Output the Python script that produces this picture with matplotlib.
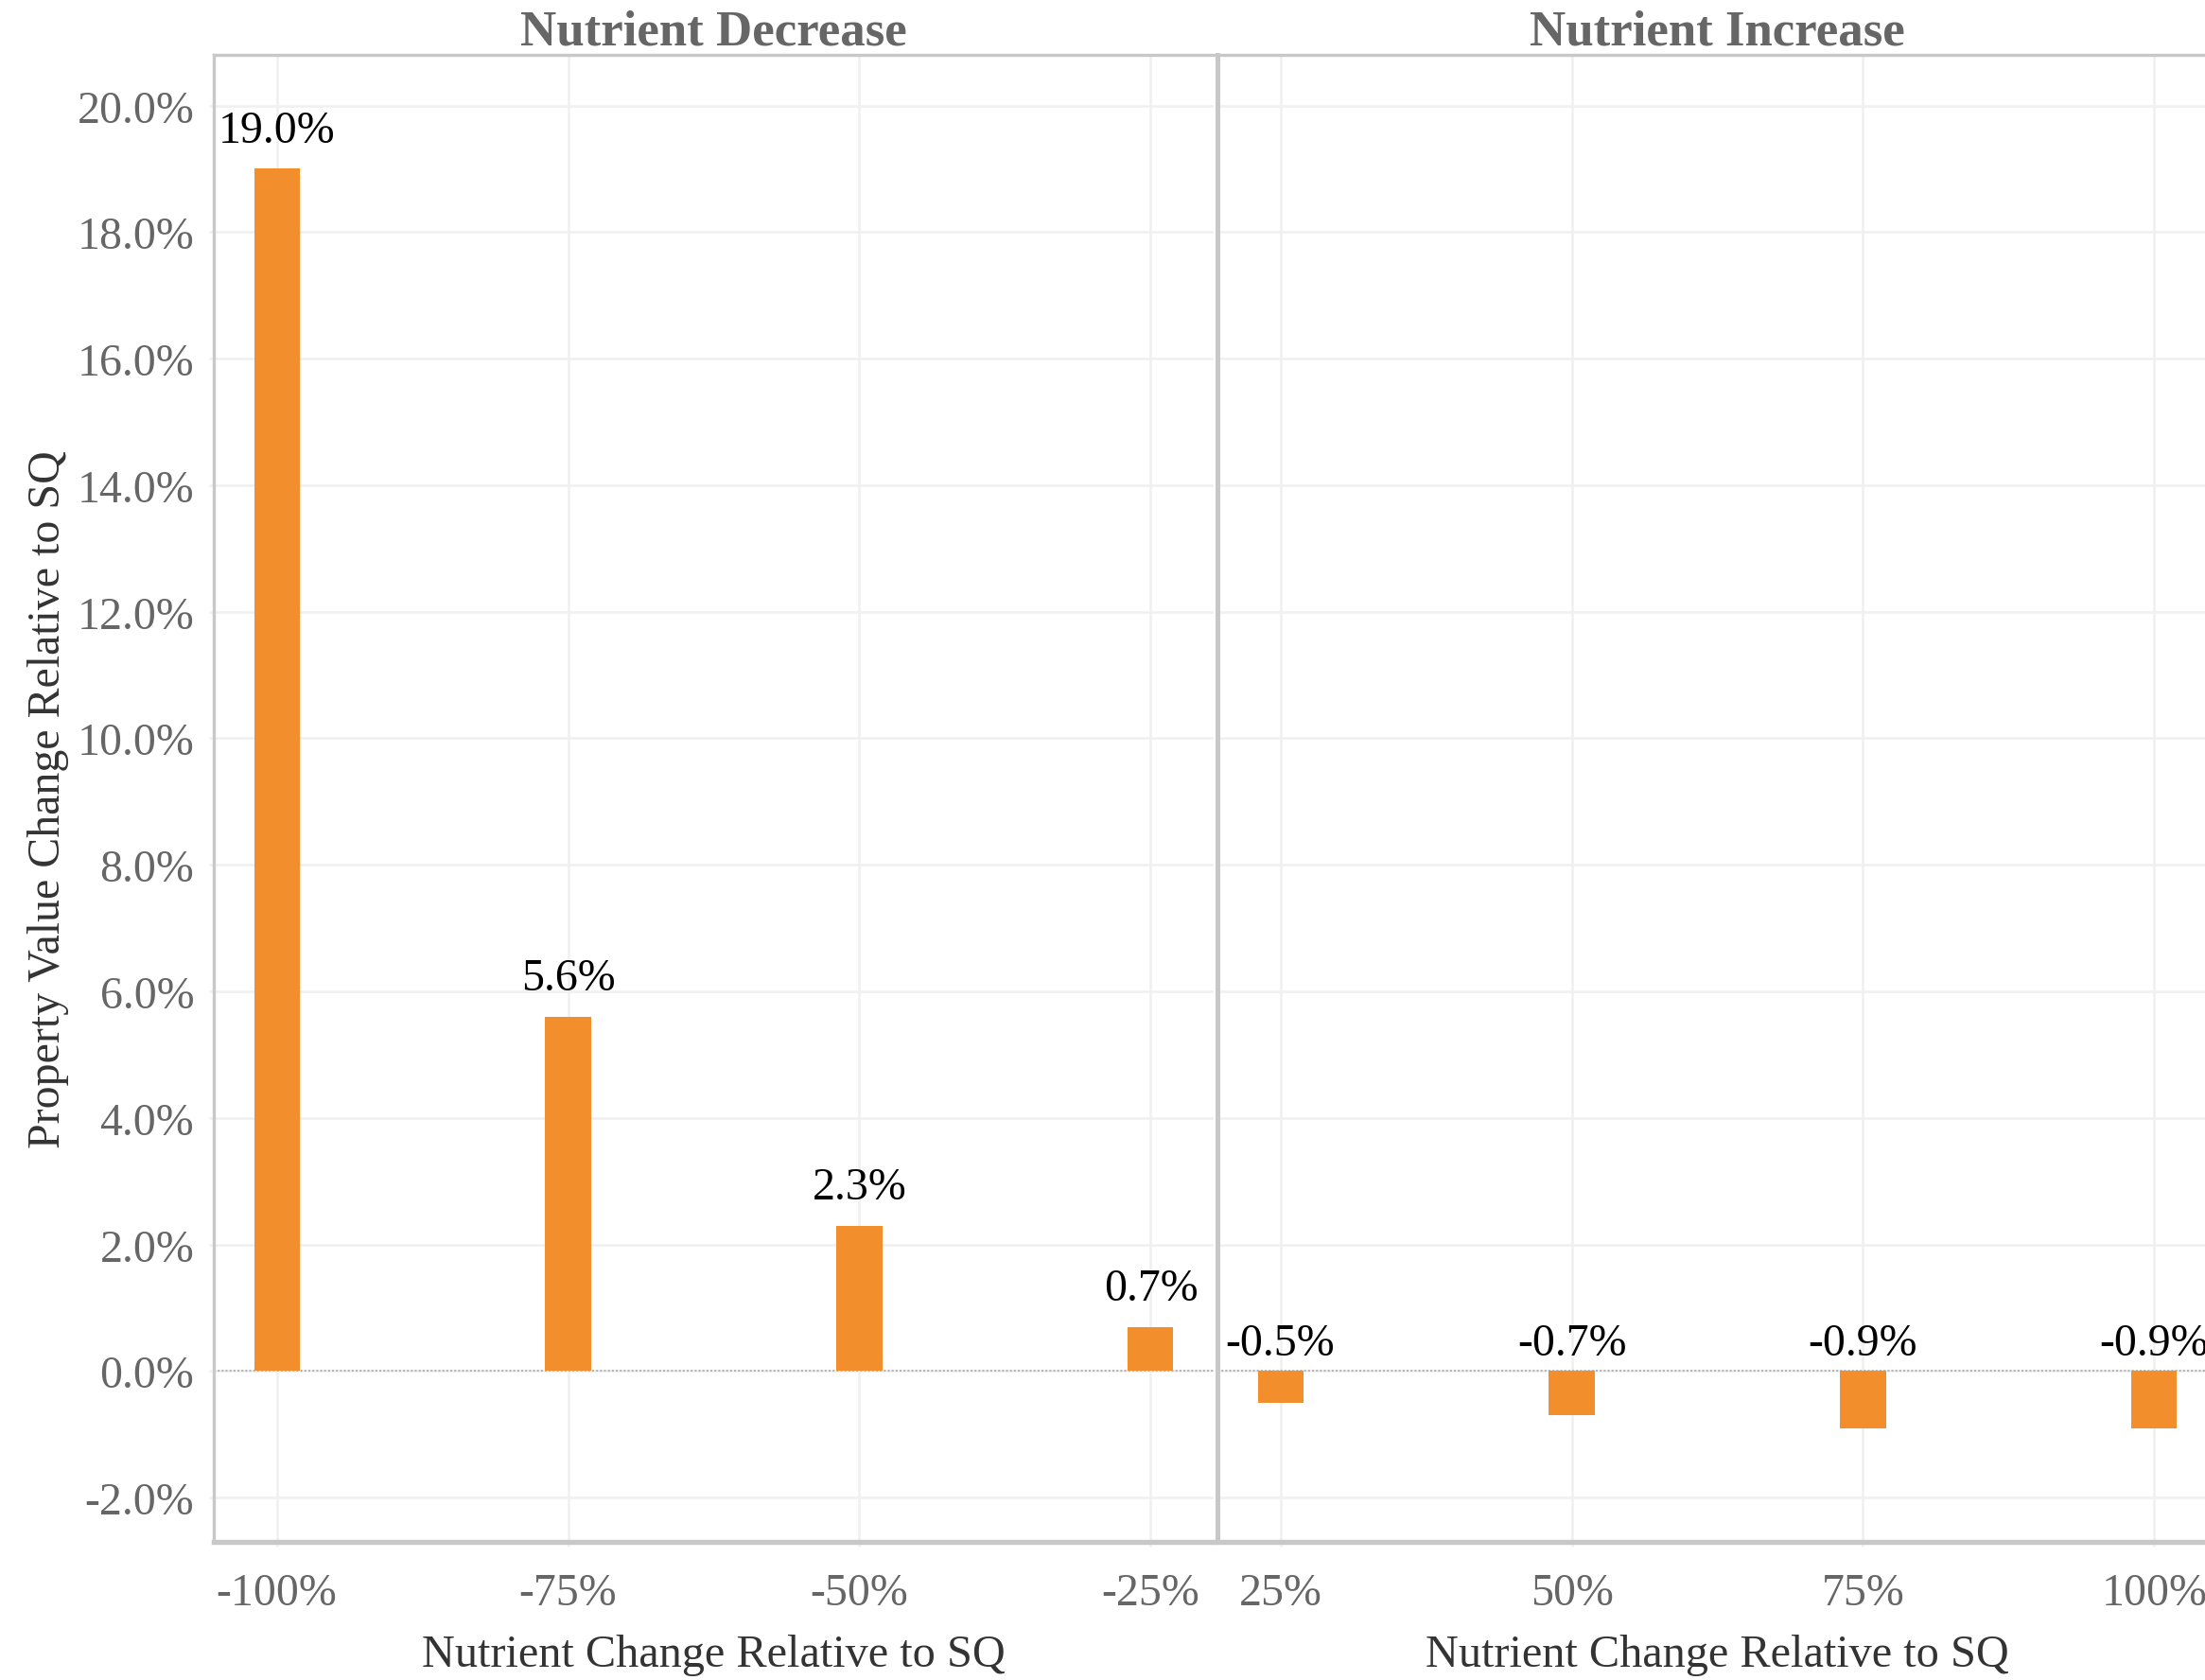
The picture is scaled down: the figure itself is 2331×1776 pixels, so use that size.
import matplotlib.pyplot as plt
import numpy as np

plt.rcParams['font.family'] = ['Liberation Serif', 'DejaVu Serif']

# data
dec_levels = [-100, -75, -50, -25]
dec_values = [19.0, 5.6, 2.3, 0.7]
inc_levels = [25, 50, 75, 100]
inc_values = [-0.5, -0.7, -0.9, -0.9]
y_ticks = np.arange(-2, 21, 2)
panel_titles = ["Nutrient Decrease", "Nutrient Increase"]
x_title = "Nutrient Change Relative to SQ"
y_title = "Property Value Change Relative to SQ"

bar_color = "#f28e2b"
frame_color = "#c8c8c8"
grid_color = "#f0f0f0"

W, H = 2331, 1777
fig = plt.figure(figsize=(W / 300, H / 300), dpi=300)
bottom = 1 - 1631 / H
height = (1631 - 59) / H
ax1 = fig.add_axes([226 / W, bottom, 1057 / W, height])
ax2 = fig.add_axes([1287 / W, bottom, 1057 / W, height], sharey=ax1)

panels = [(ax1, dec_levels, dec_values, panel_titles[0]),
          (ax2, inc_levels, inc_values, panel_titles[1])]

for ax, levels, values, title in panels:
    ax.bar(levels, values, width=3.9, color=bar_color, zorder=3)
    ax.axhline(0, color="#b5b5b5", lw=0.5, ls=(0, (1, 1)), zorder=2)

    for x, v in zip(levels, values):
        if v >= 0:
            ax.annotate(f"{v:.1f}%", (x, v), xytext=(0, 4.5), textcoords="offset points",
                        ha="center", va="bottom", fontsize=11.5, color="black")
        else:
            ax.annotate(f"{v:.1f}%", (x, 0), xytext=(0, 1.8), textcoords="offset points",
                        ha="center", va="bottom", fontsize=11.5, color="black")

    mid = np.mean([levels[0], levels[-1]])
    ax.set_xlim(mid - 42.9, mid + 42.9)
    ax.set_xticks(levels)
    ax.set_xticklabels([f"{x}%" for x in levels])
    ax.set_xlabel(x_title, fontsize=11.6, color="#333333", labelpad=5)
    ax.set_title(title, fontsize=12.7, fontweight="bold", color="#666666", pad=2.6)

    ax.grid(True, color=grid_color, lw=0.6)
    ax.set_axisbelow(True)
    ax.tick_params(axis="both", length=1.2, width=0.6, color=grid_color,
                   labelsize=11.5, labelcolor="#666666")
    ax.tick_params(axis="x", pad=6.5)
    ax.tick_params(axis="y", pad=3.8)

    ax.spines["right"].set_visible(False)
    for s in ["left", "top"]:
        ax.spines[s].set_color(frame_color)
        ax.spines[s].set_linewidth(0.8)
    ax.spines["bottom"].set_color(frame_color)
    ax.spines["bottom"].set_linewidth(1.3)

ax1.set_ylim(-2.7, 20.8)
ax1.set_yticks(y_ticks)
ax1.set_yticklabels([f"{t:.1f}%" for t in y_ticks])
ax1.set_ylabel(y_title, fontsize=11.5, color="#333333", labelpad=2)
ax2.tick_params(axis="y", labelleft=False, length=0)
ax2.spines["left"].set_linewidth(1.2)

fig.savefig("out.png", dpi=300)
